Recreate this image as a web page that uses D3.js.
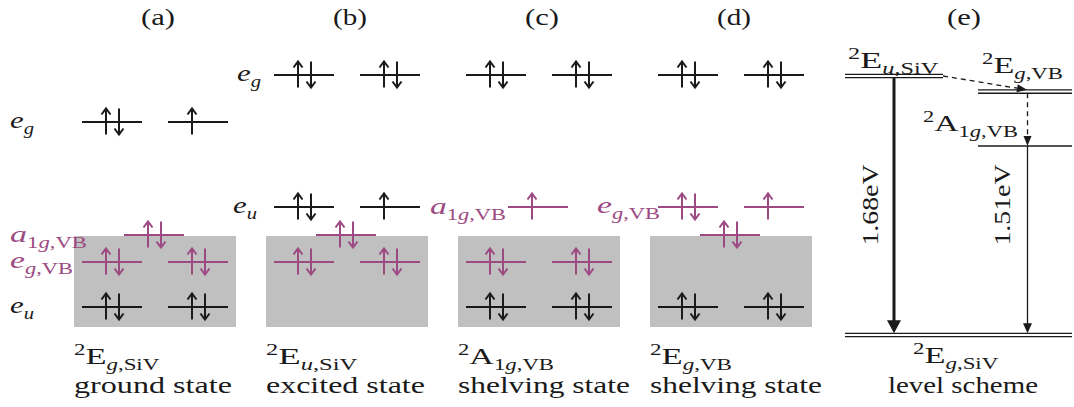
<!DOCTYPE html>
<html>
<head>
<meta charset="utf-8">
<script src="https://cdn.jsdelivr.net/npm/d3@7"></script>
<style>
  body { margin: 0; background: #fff; }
</style>
</head>
<body>
<svg id="fig" width="1074" height="407"></svg>
<script>
// ---- data ----
const panelIds = ["(a)", "(b)", "(c)", "(d)", "(e)"];
const panelCaptions = ["ground state", "excited state", "shelving state", "shelving state"];
const panelStates = [
  [["2", "sup"], ["E"], ["g", "sub", 1], [",SiV", "sub"]],
  [["2", "sup"], ["E"], ["u", "sub", 1], [",SiV", "sub"]],
  [["2", "sup"], ["A"], ["1", "sub"], ["g", "sub", 1], [",VB", "sub"]],
  [["2", "sup"], ["E"], ["g", "sub", 1], [",VB", "sub"]]
];
// orbital energies (arbitrary units), slot in the panel, electrons, VB orbital or not
const orbitals = [
  // (a) ground state
  { p: 0, slot: "L", E: 10.25, el: "ud", vb: 0 }, { p: 0, slot: "R", E: 10.25, el: "u", vb: 0 },
  { p: 0, slot: "C", E: 4.6, el: "ud", vb: 1 },
  { p: 0, slot: "L", E: 3.25, el: "ud", vb: 1 }, { p: 0, slot: "R", E: 3.25, el: "ud", vb: 1 },
  { p: 0, slot: "L", E: 1, el: "ud", vb: 0 }, { p: 0, slot: "R", E: 1, el: "ud", vb: 0 },
  // (b) excited state
  { p: 1, slot: "L", E: 12.6, el: "ud", vb: 0 }, { p: 1, slot: "R", E: 12.6, el: "ud", vb: 0 },
  { p: 1, slot: "L", E: 6, el: "ud", vb: 0 }, { p: 1, slot: "R", E: 6, el: "u", vb: 0 },
  { p: 1, slot: "C", E: 4.6, el: "ud", vb: 1 },
  { p: 1, slot: "L", E: 3.25, el: "ud", vb: 1 }, { p: 1, slot: "R", E: 3.25, el: "ud", vb: 1 },
  // (c) shelving state 2A1g,VB
  { p: 2, slot: "L", E: 12.6, el: "ud", vb: 0 }, { p: 2, slot: "R", E: 12.6, el: "ud", vb: 0 },
  { p: 2, slot: "C", E: 6, el: "u", vb: 1 },
  { p: 2, slot: "L", E: 3.25, el: "ud", vb: 1 }, { p: 2, slot: "R", E: 3.25, el: "ud", vb: 1 },
  { p: 2, slot: "L", E: 1, el: "ud", vb: 0 }, { p: 2, slot: "R", E: 1, el: "ud", vb: 0 },
  // (d) shelving state 2Eg,VB
  { p: 3, slot: "L", E: 12.6, el: "ud", vb: 0 }, { p: 3, slot: "R", E: 12.6, el: "ud", vb: 0 },
  { p: 3, slot: "L", E: 6, el: "ud", vb: 1 }, { p: 3, slot: "R", E: 6, el: "u", vb: 1 },
  { p: 3, slot: "C", E: 4.6, el: "ud", vb: 1 },
  { p: 3, slot: "L", E: 1, el: "ud", vb: 0 }, { p: 3, slot: "R", E: 1, el: "ud", vb: 0 }
];
const vbTop = 4.55; // top of the valence band (grey area)
// orbital name labels: panel, energy, text
const orbitalLabels = [
  { p: 0, E: 10.25, vb: 0, w: 24, parts: [["e", 0, 1], ["g", "sub", 1]] },
  { p: 0, E: 4.6, vb: 1, w: 77, parts: [["a", 0, 1], ["1", "sub"], ["g", "sub", 1], [",VB", "sub"]] },
  { p: 0, E: 3.25, vb: 1, w: 63, parts: [["e", 0, 1], ["g", "sub", 1], [",VB", "sub"]] },
  { p: 0, E: 1, vb: 0, w: 24, parts: [["e", 0, 1], ["u", "sub", 1]] },
  { p: 1, E: 12.6, vb: 0, w: 24, parts: [["e", 0, 1], ["g", "sub", 1]] },
  { p: 1, E: 6, vb: 0, w: 24, parts: [["e", 0, 1], ["u", "sub", 1]] },
  { p: 2, E: 6, vb: 1, w: 76, parts: [["a", 0, 1], ["1", "sub"], ["g", "sub", 1], [",VB", "sub"]] },
  { p: 3, E: 6, vb: 1, w: 63, parts: [["e", 0, 1], ["g", "sub", 1], [",VB", "sub"]] }
];
// level scheme (e): schematic heights 0..1
const schemeLevels = [
  { id: "EuSiV", h: 1.0, x0: 845, x1: 943, dbl: 1 },
  { id: "EgVB", h: 0.94, x0: 978, x1: 1072, dbl: 1 },
  { id: "A1gVB", h: 0.73, x0: 978, x1: 1072, dbl: 0 },
  { id: "EgSiV", h: 0.0, x0: 845, x1: 1072, dbl: 1 }
];
const schemeTransitions = [
  { from: "EuSiV", to: "EgSiV", x: 894, kind: "thick", label: "1.68eV" },
  { from: "A1gVB", to: "EgSiV", x: 1027.5, kind: "thin", label: "1.51eV" }
];

// ---- drawing ----
const svg = d3.select("#fig");
const FONT = "'Liberation Serif', 'DejaVu Serif', serif";
const FS = 24, SS = 16;
const BLACK = "#1a1a1a", MAG = "#9c4a82", GREY = "#c0c0c0";

const yE = d3.scaleLinear().domain([0, 16]).range([327, 7]);
const xPanel = d3.scaleLinear().domain([0, 1]).range([74, 266]);
const xSlot = d3.scaleOrdinal().domain(["L", "C", "R"]).range([8, 50, 94]);
const levelW = 60, panelW = 162;
const yS = d3.scaleLinear().domain([0, 1]).range([335, 76]);

function rich(parent, parts, o) {
  const g = parent.append("g")
    .attr("transform", `translate(${o.x},${o.y})` + (o.rot ? ` rotate(${o.rot})` : ""));
  const t = g.append("text")
    .attr("font-family", FONT)
    .attr("text-anchor", o.anchor || "start")
    .attr("fill", o.color || BLACK)
    .attr("font-size", FS);
  let shift = 0;
  parts.forEach(([s, kind, it]) => {
    const target = kind === "sub" ? 5.5 : kind === "sup" ? -9.5 : 0;
    t.append("tspan")
      .attr("dy", target - shift)
      .attr("font-size", kind ? SS : FS)
      .attr("font-style", it ? "italic" : "normal")
      .text(s);
    shift = target;
  });
  if (o.w) {
    const w = t.node().getBBox().width;
    t.attr("transform", `scale(${o.w / w},1)`);
  }
  return g;
}

// titles
panelIds.forEach((id, i) => {
  rich(svg, [[id]], { x: i < 4 ? xPanel(i) + 84 : 964, y: 25, anchor: "middle", w: 34 });
});

// valence band boxes
svg.append("g").selectAll("rect")
  .data(d3.range(4))
  .join("rect")
  .attr("x", d => xPanel(d))
  .attr("y", yE(vbTop))
  .attr("width", panelW)
  .attr("height", yE(0) - yE(vbTop))
  .attr("fill", GREY);

// orbitals
const orb = svg.append("g").selectAll("g")
  .data(orbitals)
  .join("g")
  .attr("transform", d => `translate(${xPanel(d.p) + xSlot(d.slot)},${yE(d.E)})`)
  .attr("stroke", d => d.vb ? MAG : BLACK)
  .attr("fill", "none")
  .attr("stroke-width", 2);

orb.append("line").attr("x1", 0).attr("x2", levelW);

function upArrow(x) {
  return `M${x},12.5V-13.5M${x - 4.5},-7.5L${x},-13.5L${x + 4.5},-7.5`;
}
function downArrow(x) {
  return `M${x},-13.5V12.5M${x - 4.5},6.5L${x},12.5L${x + 4.5},6.5`;
}
orb.append("path")
  .attr("d", d => d.el === "ud" ? upArrow(24) + downArrow(37) : upArrow(24));

// orbital labels
const labelX = [10, 236, 430, 597];
orbitalLabels.forEach(l => {
  const off = l.parts[0][0] === "a" ? 7 : 6;
  const xx = l.p === 1 ? (l.E === 6 ? 233 : 237) : labelX[l.p];
  rich(svg, l.parts, { x: xx, y: yE(l.E) + off, color: l.vb ? MAG : BLACK, w: l.w });
});

// bottom state labels
const stateW = [86, 92, 96, 82];
const captionW = [158, 159, 172, 172];
panelStates.forEach((parts, i) => {
  rich(svg, parts, { x: xPanel(i), y: 364, w: stateW[i] });
  rich(svg, [[panelCaptions[i]]], { x: xPanel(i), y: 393, w: captionW[i] });
});

// ---- level scheme ----
const sch = svg.append("g").attr("stroke", BLACK).attr("fill", "none");
const byId = Object.fromEntries(schemeLevels.map(d => [d.id, d]));
schemeLevels.forEach(d => {
  const y = yS(d.h);
  const ys = d.dbl ? [y - 1.7, y + 1.7] : [y];
  ys.forEach(yy => sch.append("line")
    .attr("x1", d.x0).attr("x2", d.x1).attr("y1", yy).attr("y2", yy)
    .attr("stroke-width", d.dbl ? 1.3 : 1.6));
});

function head(x, y, ang, len, hw) {
  // triangle with tip at x,y pointing along angle ang
  const c = Math.cos(ang), s = Math.sin(ang);
  const bx = x - c * len, by = y - s * len;
  svg.append("path")
    .attr("d", `M${x},${y}L${bx - s * hw},${by + c * hw}L${bx + s * hw},${by - c * hw}Z`)
    .attr("fill", BLACK);
  return [bx, by];
}

schemeTransitions.forEach(t => {
  const y0 = yS(byId[t.from].h) + (byId[t.from].dbl ? 1.7 : 0);
  const y1 = yS(byId[t.to].h) - 1.7;
  const thick = t.kind === "thick";
  const [, by] = head(t.x, y1, Math.PI / 2, thick ? 13 : 10, thick ? 7 : 4.5);
  sch.append("line")
    .attr("x1", t.x).attr("x2", t.x).attr("y1", y0).attr("y2", by + 1)
    .attr("stroke-width", thick ? 3 : 1.3);
  rich(svg, [[t.label]], { x: t.x - (thick ? 16 : 17.5), y: 205, rot: -90, anchor: "middle", w: 82 });
});

// non-radiative (dashed) transitions
const p0 = [943, yS(1.0)], p1 = [1027, yS(0.94) - 1.7];
const a1 = Math.atan2(p1[1] - p0[1], p1[0] - p0[0]);
const [bx1, by1] = head(p1[0], p1[1], a1, 10, 4);
sch.append("line").attr("x1", p0[0]).attr("y1", p0[1]).attr("x2", bx1).attr("y2", by1)
  .attr("stroke-width", 1.3).attr("stroke-dasharray", "5,4");
const [, by2] = head(1027.5, yS(0.73), Math.PI / 2, 10, 4);
sch.append("line").attr("x1", 1027.5).attr("x2", 1027.5).attr("y1", yS(0.94) + 1.7).attr("y2", by2)
  .attr("stroke-width", 1.3).attr("stroke-dasharray", "5,4");

// scheme labels
rich(svg, [["2", "sup"], ["E"], ["u", "sub", 1], [",SiV", "sub"]], { x: 848, y: 68, w: 91 });
rich(svg, [["2", "sup"], ["E"], ["g", "sub", 1], [",VB", "sub"]], { x: 982, y: 73, w: 81 });
rich(svg, [["2", "sup"], ["A"], ["1", "sub"], ["g", "sub", 1], [",VB", "sub"]], { x: 923, y: 131, w: 95 });
rich(svg, [["2", "sup"], ["E"], ["g", "sub", 1], [",SiV", "sub"]], { x: 913, y: 363, w: 86 });
rich(svg, [["level scheme"]], { x: 963, y: 393, anchor: "middle", w: 150 });
</script>
</body>
</html>
